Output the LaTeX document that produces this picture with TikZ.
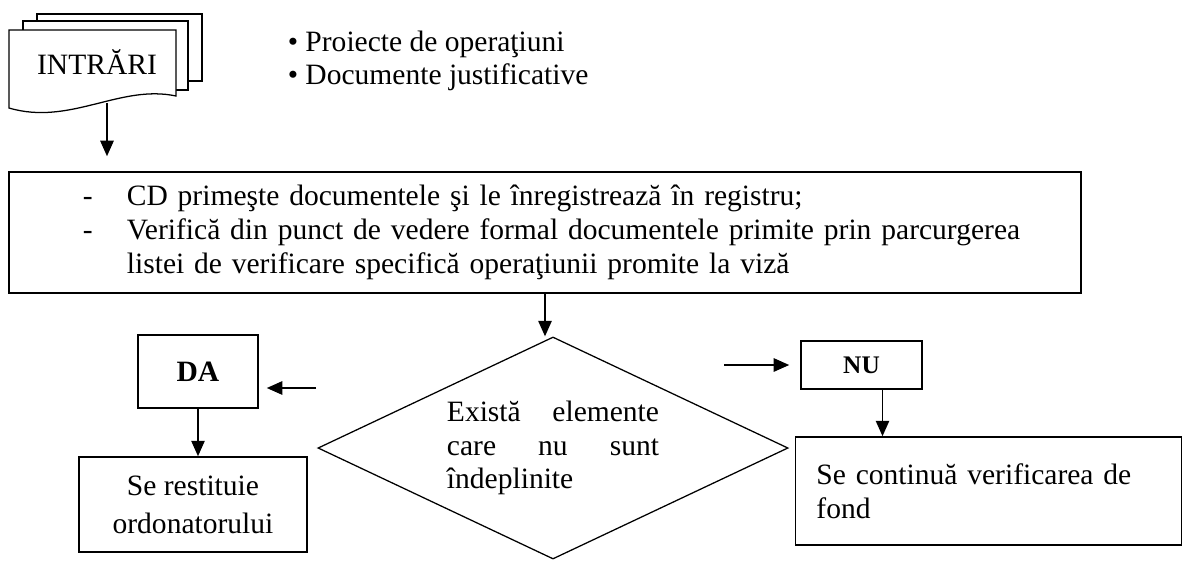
\documentclass[tikz,border=0pt]{standalone}
\usepackage{fontspec}
\setmainfont{Liberation Serif}
\usetikzlibrary{arrows.meta,shapes.geometric}

\begin{document}
\begin{tikzpicture}[
            x = 0.025cm, y = -0.025cm, % one unit per pixel, y pointing down
            > = {Triangle[length=11pt,width=9.5pt]}, % arrow head style
            line width = 1.1pt, % line style
            inner sep = 0pt,
            font = \fontsize{21}{24}\selectfont,
            box/.style = {shape=rectangle, draw=black},
            doc/.style = {draw=black, fill=white, line width=0.9pt}
        ]

\useasboundingbox (0,0) rectangle (1184,561);

% stack of input documents
\draw[doc] (37,14) rectangle (202,81);
\draw[doc] (23,21) rectangle (188,90);
\draw[doc] (9,30) -- (176,30) -- (176,96) .. controls (120,84) and (70,126) .. (9,108) -- cycle;
\node (intrari) at (97,62) {INTRĂRI};
\coordinate (docfoot) at (107,103);

\node[anchor=west, align=left] (inputs) at (287,61) {\textbullet\ Proiecte de operaţiuni\\ \textbullet\ Documente justificative};

\node[box, minimum width=26.8cm, minimum height=3.025cm, inner xsep=1.85cm, text width=23.1cm, align=left] (bigbox) at (545,232.5) {%
  \begin{tabular}{@{}p{1.1cm}@{}l@{}}
  - & CD primeşte documentele şi le înregistrează în registru;\\
  - & Verifică din punct de vedere formal documentele primite prin parcurgerea\\
    & listei de verificare specifică operaţiunii promite la viză
  \end{tabular}};

\node[draw=black, shape=diamond, aspect=2.1, minimum width=11.75cm, minimum height=5.55cm, line width=0.9pt, align=left] (check) at (553,448) {\makebox[5.3cm][s]{Există elemente}\\ \makebox[5.3cm][s]{care nu sunt}\\ îndeplinite};

\node[box, minimum width=3cm, minimum height=1.825cm, font=\fontsize{21}{24}\selectfont\bfseries] (da) at (198,371.5) {DA};
\node[box, minimum width=3.025cm, minimum height=1.2cm, font=\fontsize{18}{22}\selectfont\bfseries] (nu) at (861.5,365) {NU};

\node[box, minimum width=5.7cm, minimum height=2.375cm, align=center] (restituie) at (193,504.5) {Se restituie\\[3pt] ordonatorului};
\node[box, minimum height=2.7cm, text width=8.6cm, inner xsep=0.525cm, align=left] (continua) at (988.5,491) {Se continuă verificarea de fond};

\coordinate (dastart) at (316,388);
\coordinate (nustart) at (724,365);

 \path [->] (docfoot) edge[shorten >=0.375cm] (docfoot |- bigbox.north);
 \path [->] (bigbox.south) edge (bigbox.south |- check.north);
 \path [->] (dastart) edge[shorten >=0.2cm] (dastart -| da.east);
 \path [->] (nustart) edge[shorten >=0.275cm] (nustart -| nu.west);
 \path [->] (da.south) edge (da.south |- restituie.north);
 \path [->] ([xshift=0.525cm]nu.south) edge ([xshift=0.525cm]nu.south |- continua.north);
\end{tikzpicture}
\end{document}
